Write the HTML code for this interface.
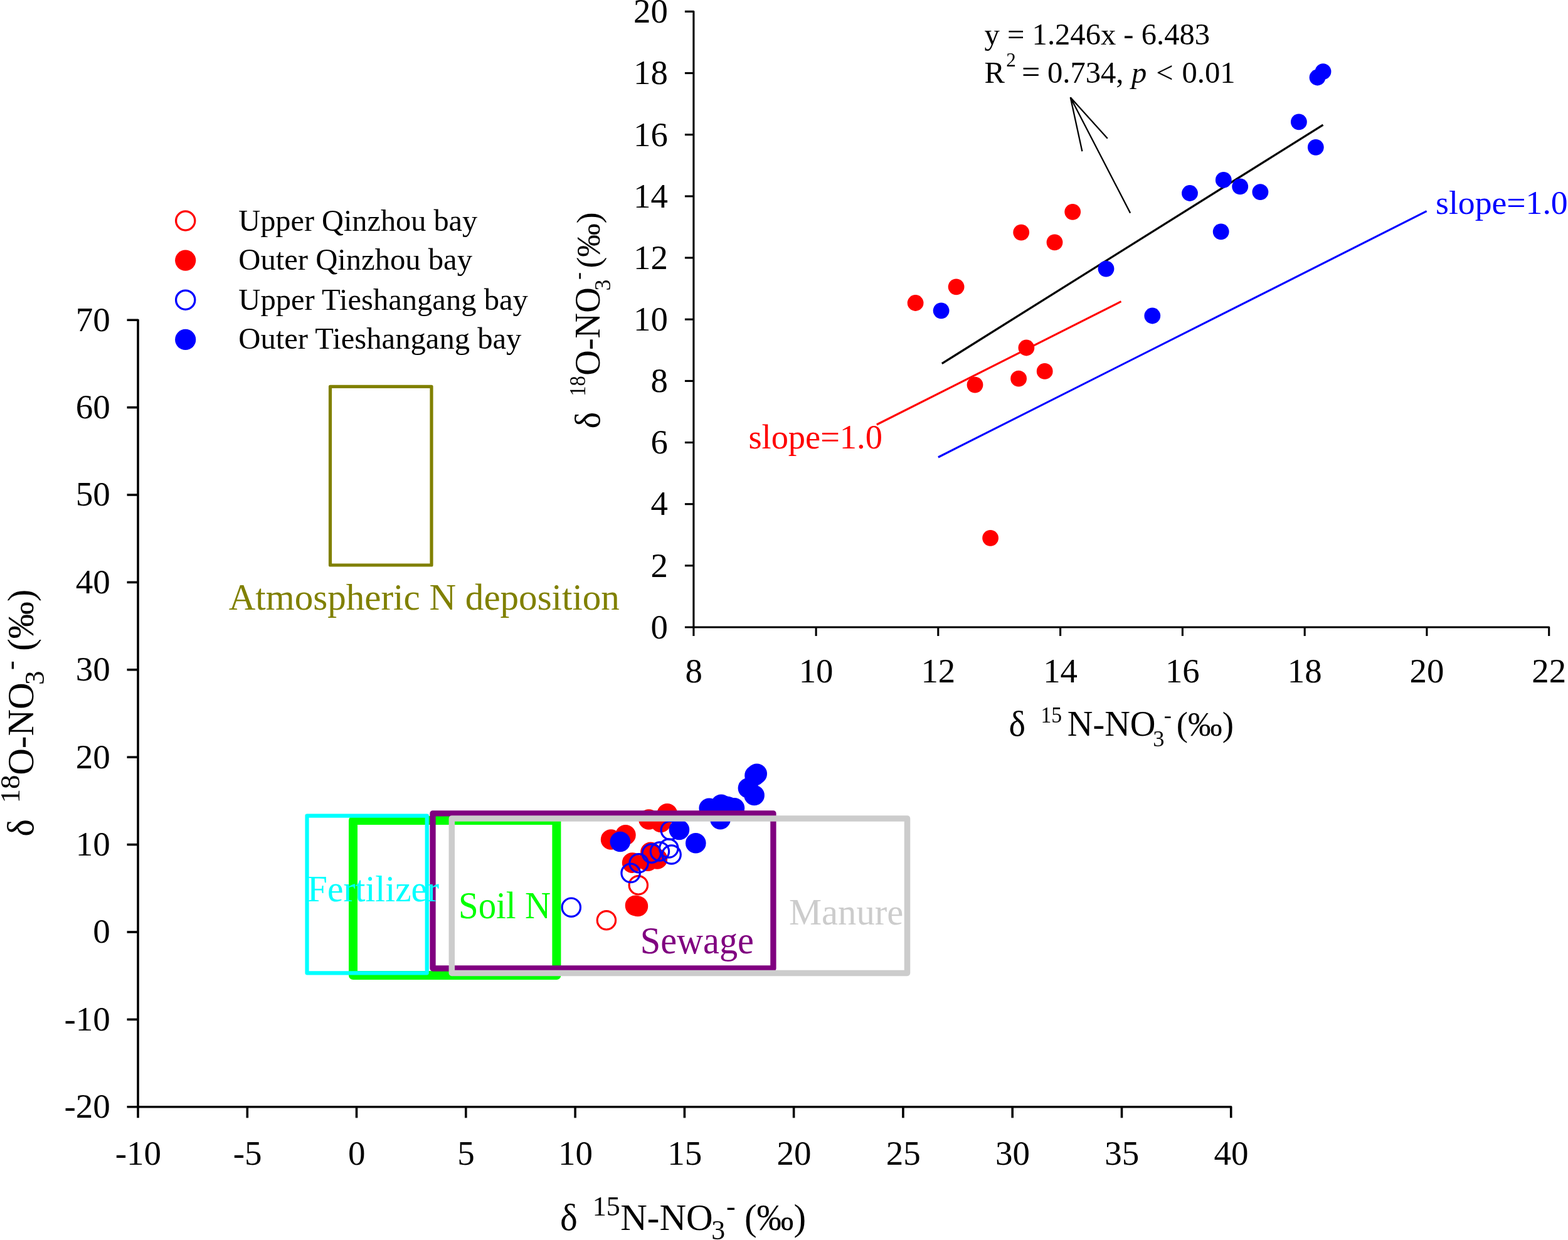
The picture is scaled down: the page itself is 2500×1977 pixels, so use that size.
<!DOCTYPE html>
<html lang="en">
<head>
<meta charset="utf-8">
<title>Nitrate dual isotope plot</title>
<style>
html,body{margin:0;padding:0;background:#fff;}
body{width:2500px;height:1977px;overflow:hidden;}
svg{display:block;}
text{font-family:"Liberation Serif", "DejaVu Serif", serif;}
</style>
</head>
<body>
<svg width="2500" height="1977" viewBox="0 0 2500 1977" role="img" aria-label="Dual nitrate isotope plot with inset regression">
<rect x="0" y="0" width="2500" height="1977" fill="#ffffff"/>
<g id="main-points">
<circle cx="1063.8" cy="1297.2" r="16.3" fill="#ff0000"/>
<circle cx="1034.5" cy="1306.5" r="16.3" fill="#ff0000"/>
<circle cx="1053.6" cy="1311.0" r="16.3" fill="#ff0000"/>
<circle cx="997.4" cy="1331.2" r="16.3" fill="#ff0000"/>
<circle cx="974.1" cy="1338.5" r="16.3" fill="#ff0000"/>
<circle cx="1037.4" cy="1358.8" r="16.3" fill="#ff0000"/>
<circle cx="1047.9" cy="1369.4" r="16.3" fill="#ff0000"/>
<circle cx="1033.0" cy="1372.7" r="16.3" fill="#ff0000"/>
<circle cx="1008.1" cy="1375.6" r="16.3" fill="#ff0000"/>
<circle cx="1013.0" cy="1443.9" r="16.3" fill="#ff0000"/>
<circle cx="1016.9" cy="1444.9" r="16.3" fill="#ff0000"/>
<circle cx="966.9" cy="1467.3" r="14.7" fill="none" stroke="#ff0000" stroke-width="3.2"/>
<circle cx="1017.8" cy="1411.3" r="14.7" fill="none" stroke="#ff0000" stroke-width="3.2"/>
<circle cx="1206.7" cy="1233.7" r="16.3" fill="#0000ff"/>
<circle cx="1203.5" cy="1236.4" r="16.3" fill="#0000ff"/>
<circle cx="1192.9" cy="1256.5" r="16.3" fill="#0000ff"/>
<circle cx="1202.6" cy="1268.0" r="16.3" fill="#0000ff"/>
<circle cx="1149.9" cy="1282.8" r="16.3" fill="#0000ff"/>
<circle cx="1130.7" cy="1288.8" r="16.3" fill="#0000ff"/>
<circle cx="1159.4" cy="1285.7" r="16.3" fill="#0000ff"/>
<circle cx="1170.9" cy="1288.2" r="16.3" fill="#0000ff"/>
<circle cx="1148.5" cy="1306.2" r="16.3" fill="#0000ff"/>
<circle cx="1082.9" cy="1323.0" r="16.3" fill="#0000ff"/>
<circle cx="988.8" cy="1342.0" r="16.3" fill="#0000ff"/>
<circle cx="1109.3" cy="1344.3" r="16.3" fill="#0000ff"/>
<circle cx="910.8" cy="1446.7" r="14.7" fill="none" stroke="#0000ff" stroke-width="3.2"/>
<circle cx="1005.6" cy="1391.9" r="14.7" fill="none" stroke="#0000ff" stroke-width="3.2"/>
<circle cx="1018.5" cy="1376.3" r="14.7" fill="none" stroke="#0000ff" stroke-width="3.2"/>
<circle cx="1038.8" cy="1360.6" r="14.7" fill="none" stroke="#0000ff" stroke-width="3.2"/>
<circle cx="1051.9" cy="1357.5" r="14.7" fill="none" stroke="#0000ff" stroke-width="3.2"/>
<circle cx="1066.3" cy="1352.5" r="14.7" fill="none" stroke="#0000ff" stroke-width="3.2"/>
<circle cx="1070.6" cy="1362.5" r="14.7" fill="none" stroke="#0000ff" stroke-width="3.2"/>
<circle cx="1068.8" cy="1323.8" r="14.7" fill="none" stroke="#0000ff" stroke-width="3.2"/>
</g>
<g id="boxes">
<rect x="526.5" y="616.3" width="161.5" height="284.7" fill="none" stroke="#808000" stroke-width="5.2" stroke-linejoin="round"/>
<rect x="563.0" y="1308.0" width="324.4" height="247.0" fill="none" stroke="#00ff00" stroke-width="14" stroke-linejoin="round"/>
<rect x="489.5" y="1300.6" width="191.2" height="250.7" fill="none" stroke="#00ffff" stroke-width="6.2" stroke-linejoin="round"/>
<rect x="690.0" y="1296.8" width="542.9" height="247.2" fill="none" stroke="#800080" stroke-width="9.3" stroke-linejoin="round"/>
<rect x="720.3" y="1304.9" width="726.2" height="246.5" fill="none" stroke="#cccccc" stroke-width="9.5" stroke-linejoin="round"/>
</g>
<g id="box-labels">
<text x="364.70" y="972.00" font-size="59.05" fill="#808000">Atmospheric N deposition</text>
<text transform="translate(490.10 1437.30) scale(0.9550 1)" font-size="60.0" fill="#00ffff">Fertilizer</text>
<text transform="translate(731.00 1463.60) scale(0.9250 1)" font-size="61.5" fill="#00ff00">Soil N</text>
<text transform="translate(1020.80 1519.60) scale(0.9550 1)" font-size="61.0" fill="#800080">Sewage</text>
<text transform="translate(1258.00 1474.40) scale(0.9770 1)" font-size="60.0" fill="#cccccc">Manure</text>
</g>
<g id="main-axes" stroke="#000" stroke-width="3.6" fill="none" stroke-linecap="butt" stroke-linejoin="round">
<path d="M 202.5 510.2 H 220.0 V 1782.3"/>
<path d="M 202.5 1764.8 H 1962.7 V 1782.3"/>
<path d="M 202.5 1625.4 H 220.0"/>
<path d="M 202.5 1486.0 H 220.0"/>
<path d="M 202.5 1346.6 H 220.0"/>
<path d="M 202.5 1207.2 H 220.0"/>
<path d="M 202.5 1067.8 H 220.0"/>
<path d="M 202.5 928.4 H 220.0"/>
<path d="M 202.5 789.0 H 220.0"/>
<path d="M 202.5 649.6 H 220.0"/>
<path d="M 394.3 1764.8 V 1782.3"/>
<path d="M 568.5 1764.8 V 1782.3"/>
<path d="M 742.8 1764.8 V 1782.3"/>
<path d="M 917.1 1764.8 V 1782.3"/>
<path d="M 1091.4 1764.8 V 1782.3"/>
<path d="M 1265.6 1764.8 V 1782.3"/>
<path d="M 1439.9 1764.8 V 1782.3"/>
<path d="M 1614.2 1764.8 V 1782.3"/>
<path d="M 1788.5 1764.8 V 1782.3"/>
</g>
<g id="main-ticklabels" fill="#000">
<text x="175.80" y="1782.10" font-size="55" fill="#000" text-anchor="end">-20</text>
<text x="175.80" y="1642.70" font-size="55" fill="#000" text-anchor="end">-10</text>
<text x="175.80" y="1503.30" font-size="55" fill="#000" text-anchor="end">0</text>
<text x="175.80" y="1363.90" font-size="55" fill="#000" text-anchor="end">10</text>
<text x="175.80" y="1224.50" font-size="55" fill="#000" text-anchor="end">20</text>
<text x="175.80" y="1085.10" font-size="55" fill="#000" text-anchor="end">30</text>
<text x="175.80" y="945.70" font-size="55" fill="#000" text-anchor="end">40</text>
<text x="175.80" y="806.30" font-size="55" fill="#000" text-anchor="end">50</text>
<text x="175.80" y="666.90" font-size="55" fill="#000" text-anchor="end">60</text>
<text x="175.80" y="527.50" font-size="55" fill="#000" text-anchor="end">70</text>
<text x="220.30" y="1857.40" font-size="55" fill="#000" text-anchor="middle">-10</text>
<text x="394.57" y="1857.40" font-size="55" fill="#000" text-anchor="middle">-5</text>
<text x="568.85" y="1857.40" font-size="55" fill="#000" text-anchor="middle">0</text>
<text x="743.12" y="1857.40" font-size="55" fill="#000" text-anchor="middle">5</text>
<text x="917.40" y="1857.40" font-size="55" fill="#000" text-anchor="middle">10</text>
<text x="1091.67" y="1857.40" font-size="55" fill="#000" text-anchor="middle">15</text>
<text x="1265.95" y="1857.40" font-size="55" fill="#000" text-anchor="middle">20</text>
<text x="1440.22" y="1857.40" font-size="55" fill="#000" text-anchor="middle">25</text>
<text x="1614.50" y="1857.40" font-size="55" fill="#000" text-anchor="middle">30</text>
<text x="1788.77" y="1857.40" font-size="55" fill="#000" text-anchor="middle">35</text>
<text x="1963.05" y="1857.40" font-size="55" fill="#000" text-anchor="middle">40</text>
</g>
<text transform="translate(895.00 1960.50)" fill="#000" font-size="59.0"><tspan x="-2.02" y="0">δ </tspan><tspan x="49.72" y="-22.50" font-size="44.0">15</tspan><tspan x="94.23" y="0">N-NO</tspan><tspan x="239.24" y="15.50" font-size="44.0">3</tspan><tspan x="262.99" y="-22.50" font-size="44.0">- </tspan><tspan x="291.96" y="0" font-size="59.0">(‰)</tspan></text>
<text transform="translate(53.20 1331.75) rotate(-90)" fill="#000" font-size="59.0"><tspan x="-2.02" y="0">δ </tspan><tspan x="51.38" y="-21.90" font-size="45.0">18</tspan><tspan x="95.98" y="0">O-NO</tspan><tspan x="239.69" y="16.30" font-size="45.0">3</tspan><tspan x="263.44" y="-21.90" font-size="45.0">- </tspan><tspan x="293.96" y="0" font-size="59.0">(‰)</tspan></text>
<g id="legend">
<circle cx="295.7" cy="352.0" r="15.1" fill="none" stroke="#ff0000" stroke-width="3.3"/>
<circle cx="295.7" cy="415.2" r="16.6" fill="#ff0000"/>
<circle cx="295.7" cy="478.2" r="15.1" fill="none" stroke="#0000ff" stroke-width="3.3"/>
<circle cx="295.7" cy="541.4" r="16.6" fill="#0000ff"/>
<text x="380.30" y="368.20" font-size="48.3" fill="#000">Upper Qinzhou bay</text>
<text transform="translate(380.30 430.40) scale(1.0070 1)" font-size="48.3" fill="#000">Outer Qinzhou bay</text>
<text transform="translate(380.30 493.60) scale(1.0060 1)" font-size="48.3" fill="#000">Upper Tieshangang bay</text>
<text transform="translate(380.30 556.10) scale(1.0070 1)" font-size="48.3" fill="#000">Outer Tieshangang bay</text>
</g>
<g id="inset-axes" stroke="#000" stroke-width="3.1" fill="none" stroke-linejoin="round">
<path d="M 1091.9 18.4 H 1105.9 V 1014.0"/>
<path d="M 1091.9 1000.0 H 2469.7 V 1014.0"/>
<path d="M 1091.9 901.8 H 1105.9"/>
<path d="M 1091.9 803.7 H 1105.9"/>
<path d="M 1091.9 705.5 H 1105.9"/>
<path d="M 1091.9 607.4 H 1105.9"/>
<path d="M 1091.9 509.2 H 1105.9"/>
<path d="M 1091.9 411.0 H 1105.9"/>
<path d="M 1091.9 312.9 H 1105.9"/>
<path d="M 1091.9 214.7 H 1105.9"/>
<path d="M 1091.9 116.6 H 1105.9"/>
<path d="M 1301.1 1000.0 V 1014.0"/>
<path d="M 1495.8 1000.0 V 1014.0"/>
<path d="M 1690.6 1000.0 V 1014.0"/>
<path d="M 1885.4 1000.0 V 1014.0"/>
<path d="M 2080.2 1000.0 V 1014.0"/>
<path d="M 2274.9 1000.0 V 1014.0"/>
</g>
<g id="inset-ticklabels" fill="#000">
<text x="1064.80" y="1017.80" font-size="54.8" fill="#000" text-anchor="end">0</text>
<text x="1064.80" y="919.64" font-size="54.8" fill="#000" text-anchor="end">2</text>
<text x="1064.80" y="821.48" font-size="54.8" fill="#000" text-anchor="end">4</text>
<text x="1064.80" y="723.32" font-size="54.8" fill="#000" text-anchor="end">6</text>
<text x="1064.80" y="625.16" font-size="54.8" fill="#000" text-anchor="end">8</text>
<text x="1064.80" y="527.00" font-size="54.8" fill="#000" text-anchor="end">10</text>
<text x="1064.80" y="428.84" font-size="54.8" fill="#000" text-anchor="end">12</text>
<text x="1064.80" y="330.68" font-size="54.8" fill="#000" text-anchor="end">14</text>
<text x="1064.80" y="232.52" font-size="54.8" fill="#000" text-anchor="end">16</text>
<text x="1064.80" y="134.36" font-size="54.8" fill="#000" text-anchor="end">18</text>
<text x="1064.80" y="36.20" font-size="54.8" fill="#000" text-anchor="end">20</text>
<text x="1106.30" y="1087.80" font-size="54.8" fill="#000" text-anchor="middle">8</text>
<text x="1301.07" y="1087.80" font-size="54.8" fill="#000" text-anchor="middle">10</text>
<text x="1495.84" y="1087.80" font-size="54.8" fill="#000" text-anchor="middle">12</text>
<text x="1690.61" y="1087.80" font-size="54.8" fill="#000" text-anchor="middle">14</text>
<text x="1885.38" y="1087.80" font-size="54.8" fill="#000" text-anchor="middle">16</text>
<text x="2080.15" y="1087.80" font-size="54.8" fill="#000" text-anchor="middle">18</text>
<text x="2274.92" y="1087.80" font-size="54.8" fill="#000" text-anchor="middle">20</text>
<text x="2469.69" y="1087.80" font-size="54.8" fill="#000" text-anchor="middle">22</text>
</g>
<text transform="translate(1610.50 1173.00)" fill="#000" font-size="56.3"><tspan x="-1.93" y="0">δ </tspan><tspan x="48.93" y="-21.30" font-size="36.5" textLength="33.58" lengthAdjust="spacingAndGlyphs">15</tspan><tspan x="91.32" y="0">N-NO</tspan><tspan x="227.83" y="16.50" font-size="36.5">3</tspan><tspan x="245.33" y="-21.30" font-size="36.5">- </tspan><tspan x="265.18" y="0" font-size="54.8">(‰)</tspan></text>
<text transform="translate(956.00 681.25) rotate(-90)" fill="#000" font-size="56.2"><tspan x="-1.93" y="0">δ </tspan><tspan x="49.53" y="-23.50" font-size="36.0" textLength="32.40" lengthAdjust="spacingAndGlyphs">18</tspan><tspan x="82.57" y="0">O-NO</tspan><tspan x="217.85" y="16.50" font-size="36.0">3</tspan><tspan x="235.35" y="-23.50" font-size="36.0">- </tspan><tspan x="253.85" y="0" font-size="53.4">(‰)</tspan></text>
<g id="inset-lines" fill="none">
<path d="M 1501.8 579.6 L 2109.5 199.1" stroke="#000" stroke-width="3.3"/>
<path d="M 1397.8 677.0 L 1787.5 480.7" stroke="#ff0000" stroke-width="3.1"/>
<path d="M 1495.9 729.0 L 2274.6 336.7" stroke="#0000ff" stroke-width="3.1"/>
<path d="M 1802.1 339.6 L 1706.7 155.2 M 1765.8 220.7 L 1706.7 155.2 L 1725.4 241.2" stroke="#000" stroke-width="2.3" stroke-linejoin="bevel"/>
</g>
<g id="inset-points">
<circle cx="1710.2" cy="337.8" r="12.9" fill="#ff0000"/>
<circle cx="1628.2" cy="370.6" r="12.9" fill="#ff0000"/>
<circle cx="1681.5" cy="386.4" r="12.9" fill="#ff0000"/>
<circle cx="1524.6" cy="457.3" r="12.9" fill="#ff0000"/>
<circle cx="1459.6" cy="483.0" r="12.9" fill="#ff0000"/>
<circle cx="1636.4" cy="554.5" r="12.9" fill="#ff0000"/>
<circle cx="1665.7" cy="591.9" r="12.9" fill="#ff0000"/>
<circle cx="1624.1" cy="603.7" r="12.9" fill="#ff0000"/>
<circle cx="1554.5" cy="613.6" r="12.9" fill="#ff0000"/>
<circle cx="1579.1" cy="857.8" r="12.9" fill="#ff0000"/>
<circle cx="2109.5" cy="114.2" r="12.9" fill="#0000ff"/>
<circle cx="2100.5" cy="123.5" r="12.9" fill="#0000ff"/>
<circle cx="2070.9" cy="194.4" r="12.9" fill="#0000ff"/>
<circle cx="2097.8" cy="234.8" r="12.9" fill="#0000ff"/>
<circle cx="1950.8" cy="286.9" r="12.9" fill="#0000ff"/>
<circle cx="1897.0" cy="308.0" r="12.9" fill="#0000ff"/>
<circle cx="1977.2" cy="297.4" r="12.9" fill="#0000ff"/>
<circle cx="2009.4" cy="306.2" r="12.9" fill="#0000ff"/>
<circle cx="1946.7" cy="369.4" r="12.9" fill="#0000ff"/>
<circle cx="1763.5" cy="428.6" r="12.9" fill="#0000ff"/>
<circle cx="1500.6" cy="495.3" r="12.9" fill="#0000ff"/>
<circle cx="1837.3" cy="503.5" r="12.9" fill="#0000ff"/>
</g>
<g id="inset-text">
<text x="1569.60" y="71.40" font-size="48.6" fill="#000">y = 1.246x - 6.483</text>
<text font-size="48.6" fill="#000"><tspan x="1569.6" y="131.6">R</tspan><tspan x="1604.2" y="106.0" font-size="31">2 </tspan><tspan x="1629.0" y="131.6" font-size="52">= </tspan><tspan x="1670.0" y="131.6">0.734, </tspan><tspan x="1804.0" y="131.6" font-style="italic">p </tspan><tspan x="1843.2" y="131.6">&lt; </tspan><tspan x="1884.5" y="131.6">0.01</tspan></text>
<text x="2289.00" y="341.30" font-size="53.7" fill="#0000ff">slope=1.0</text>
<text x="1193.40" y="715.00" font-size="54.4" fill="#ff0000">slope=1.0</text>
</g>
</svg>
</body>
</html>
